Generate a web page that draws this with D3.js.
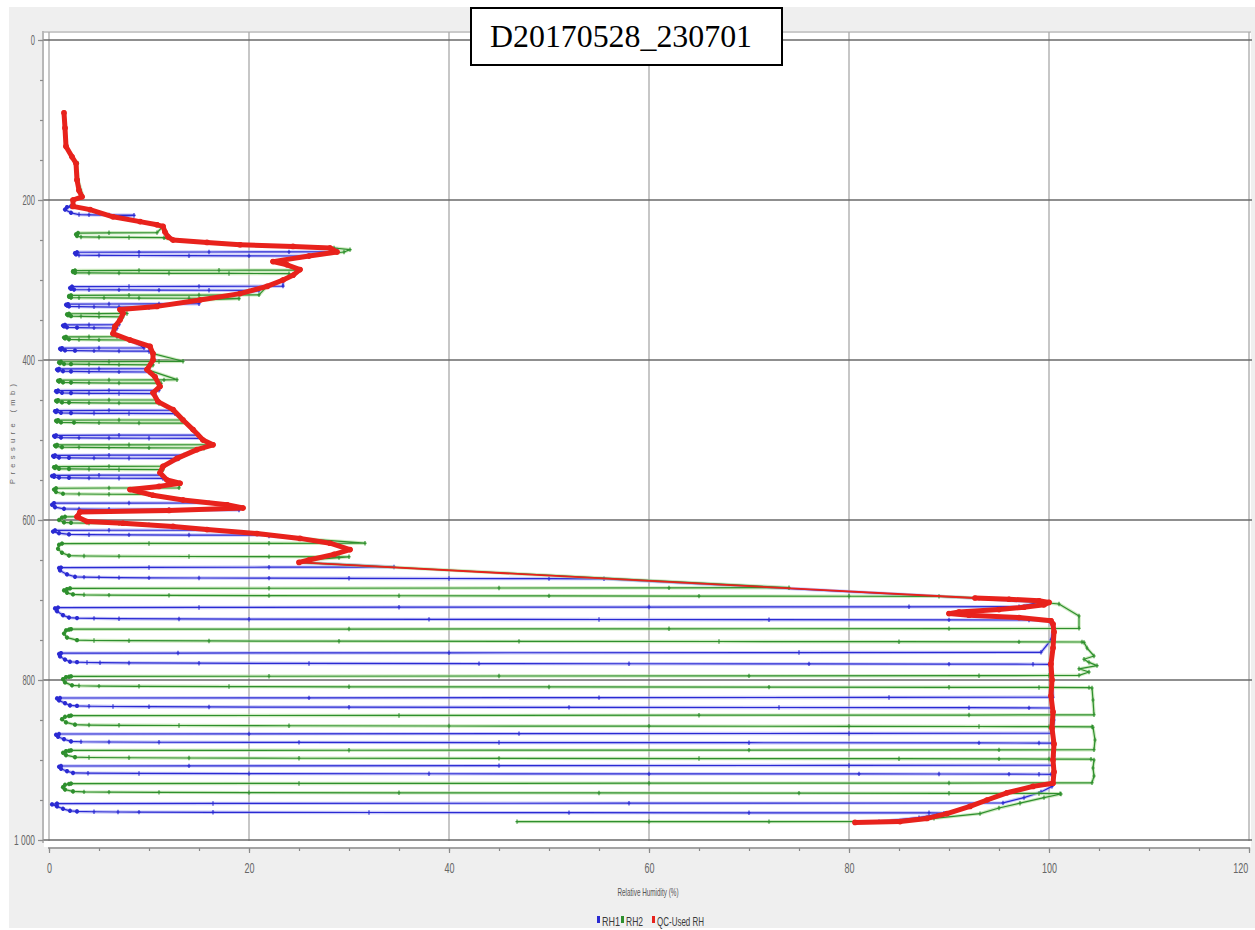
<!DOCTYPE html>
<html>
<head>
<meta charset="utf-8">
<script src="https://cdn.jsdelivr.net/npm/d3@7"></script>
<style>
  html, body { margin: 0; padding: 0; background: #ffffff; }
  svg { display: block; }
</style>
</head>
<body>
<svg id="chart" width="1255" height="930"></svg>
<script>
// Axis ticks
const pressureTicks = [0, 200, 400, 600, 800, 1000];
const rhTicks = [0, 20, 40, 60, 80, 100, 120];
const legendItems = ["RH1", "RH2", "QC-Used RH"];
const titleText = "D20170528_230701";

// RH1 sensor, [pressure hPa, RH %] in ascent order (heating cycles give the saw-tooth)
const rh1 = [
  [977,83],[972,87],[966.5,89.5],
  [966,88],[966,70],[965.8,52],[965.6,32],[965.4,16.4],[965.2,9],[965,6.9],[964.7,4.5],[964.3,2.8],[963.5,2.1],
  [961,1.4],[958,0.8],[955.5,0.3],
  [954.5,0.8],[954.3,16.4],[954,58],[953.6,95.4],
  [947,97.5],[940,99.2],[933,100.3],[925,100.4],[918.5,100.4],
  [918,100.2],[917.8,99],[917.6,96],[917.5,89],[917.4,81],[917.3,60],[917.2,38],[917,20],[916.8,9],[916.5,3.9],[916.2,2.4],
  [914,1.8],[911,1.2],[908.5,1.0],
  [907.5,1.2],[907.3,14],[907,45],[906.8,80],[906.5,100.4],
  [895,100.5],[880,100.4],
  [879,100.3],[878.8,99],[878.6,93],[878.4,70],[878.2,45],[878,25],[877.8,11],[877.5,6],[877.2,3.2],[876.8,2.2],
  [874,1.5],[871,0.9],[868.5,0.7],
  [867.5,1.0],[867.3,20],[867,47],[866.8,80],[866.5,100.4],
  [850,100.5],[836,100.4],
  [835,100.3],[834.8,98],[834.6,92],[834.4,73],[834.2,52],[834,30],[833.7,16],[833.4,10],[833.1,6.4],[832.8,4],[832.4,2.8],[831.8,2.1],
  [829,1.6],[825.5,1.0],[823,0.8],
  [822.5,1.1],[822.3,26],[822,55],[821.8,84],[821.5,100.4],
  [800,100.3],[781,100.2],
  [780.5,100],[780.3,98.4],[780.1,90],[779.9,76],[779.7,58],[779.5,43],[779.3,26],[779,15],[778.7,8],[778.4,5.1],[778.1,3.8],[777.7,2.8],[777.2,2.1],
  [774.5,1.6],[770.5,1.1],[767.5,1.0],
  [766.5,1.2],[766.3,12.9],[766,40],[765.7,75],[765.4,99.2],
  [750,100.2],[735,100.4],[726,100],
  [725,98],[724.8,90],[724.6,72],[724.4,55],[724.2,38],[724,20],[723.7,13],[723.4,7],[723,4.5],[722.6,2.8],[722,2],
  [719,1.4],[714,0.8],[710.5,0.6],
  [709.5,0.9],[709.3,15],[709,35],[708.8,60],[708.5,86],[708.3,97],
  [703,99],[698,93],[673.5,55.5],
  [673.3,50],[673.1,40],[672.9,30],[672.7,22],[672.5,15],[672.3,10],[672,7],[671.7,5],[671.4,3.5],[671,2.6],
  [668,1.8],[663,1.1],[660,1.0],
  [659.5,1.2],[659.3,10],[659,22],[658.8,34.5],
  [653,25],[650,26],[643,28.5],[637,30.1],[629,28.1],[623,25.1],[620,22],
  [619,22],[618.8,14],[618.6,8],[618.4,4],[618,2],
  [616.5,1.0],[614.5,0.4],
  [613,0.6],[612.8,6],[612.6,16],
  [606,10],[602,3.8],[596,2.8],[590,3.1],[588,12],[587.5,19],
  [587,19],[586.8,12],[586.6,6],[586.3,3],[586,1.5],
  [584,0.6],[581,0.3],
  [579,0.5],[578.8,8],[578.5,16],
  [575,13.4],[569,10.4],[562,8.1],[558,11],[554,13.1],[550,11.8],[548.3,11.4],
  [548,11.4],[547.8,7],[547.6,4],[547.3,2],[547,1],
  [546,0.5],[545,0.3],
  [544.2,0.5],[544,5],[543.8,11.2],
  [541,11.1],[533,11.4],[523.3,13],
  [523,13],[522.8,8],[522.6,4.5],[522.3,2],[522,1],
  [521,0.5],[520,0.4],
  [519.2,0.6],[519,6],[518.8,13.5],
  [512,14.8],[506,16.4],[500,15.4],[498.3,15.2],
  [498,15.2],[497.8,10],[497.6,6],[497.3,3],[497,1.2],
  [496,0.6],[495,0.5],
  [494.2,0.7],[494,7],[493.8,15],
  [487,14.4],[475,13.4],[467.3,12.6],
  [467,12.6],[466.8,8],[466.6,4.5],[466.3,2.2],[466,1.2],
  [465,0.7],[464,0.6],
  [463.2,0.8],[463,6],[462.8,12.4],
  [452,10.9],[442.3,10.6],
  [442,10.6],[441.8,7],[441.6,4],[441.3,2.2],[441,1.3],
  [440,0.8],[439,0.7],
  [438.2,0.9],[438,6],[437.8,11],
  [433,11.1],[421,10.6],[415.3,10],
  [415,10],[414.8,7],[414.6,4],[414.3,2.2],[414,1.4],
  [413,0.9],[412,0.8],
  [411.2,1.0],[411,5],[410.8,10],
  [400,10.4],[392,10.4],[389.3,10],
  [389,10],[388.8,7],[388.6,4.5],[388.3,2.6],[388,1.6],
  [387,1.2],[386,1.1],
  [385.2,1.3],[385,5],[384.8,9.5],
  [375,8.1],[367,6.4],[360.3,6.8],
  [360,6.8],[359.8,4.5],[359.5,2.8],[359.2,1.8],
  [358,1.5],[357,1.4],
  [356.2,1.6],[356,4],[355.8,7],
  [350,7.1],[342,7.4],[337,7.1],[334.3,10],
  [334,10],[333.8,7],[333.5,4.5],[333.2,3],[333,2],
  [332,1.8],[331,1.7],
  [330.2,1.9],[330,6],[329.8,11],[329.6,15],
  [325,15.1],[317,19.1],[313.3,21],
  [313,21],[312.8,16],[312.6,11],[312.4,7],[312.2,4],[312,2.5],
  [311,2.2],[310,2.1],
  [308.3,2.3],[308.1,8],[308,15],[307.8,22],[307.6,23.4],
  [300,23.4],[294,24.4],[287,25.1],[281,23.8],[277,22.4],[272,25],[270.3,26],
  [270,26],[269.8,20],[269.6,14],[269.4,9],[269.2,5],[269,3],
  [268,2.7],[266.5,2.6],
  [265.3,2.8],[265.1,9],[265,16],[264.8,24],[264.6,28.5],
  [262,28.8],[260,28.1],[258,24.4],[256,19.1],[253,15.8],[250,12.4],[240,11.6],[233,11.4],[227,9.1],[221,6.4],[219.3,8.5],
  [219,8.5],[218.8,6],[218.5,4],[218.2,3],
  [216,2.2],[212,1.6],[209,1.8],
  [208,2.2],[207.8,2.5],
  [200,2.4],[196,3.3],[175,2.8],[154,2.7],[146,2.3],[133,1.7],[110,1.6],[92,1.5]
];

// RH2 sensor, [pressure hPa, RH %] in ascent order
const rh2 = [
  [977,46.8],[977,60],[977,72],[976.8,85],[973,88.5],[967,93.1],[960,95],[954,97.1],[947,99.5],[942.5,101.2],
  [942,101.1],[941.8,99],[941.6,90],[941.4,75],[941.2,55],[941,35],[940.8,20],[940.5,11],[940.2,6],[939.8,3.5],[939.3,2.4],
  [937,1.6],[934,1.4],[931,1.6],[930,2.0],
  [929.5,2.2],[929.3,25],[929,60],[928.8,90],[928.5,104.3],
  [920,104.5],[910,104.4],[900,104.5],
  [899,104.2],[898.8,100],[898.6,95],[898.4,85],[898.2,65],[898,45],[897.8,25],[897.5,14],[897.2,8],[896.9,4],[896.5,2.6],
  [894,1.7],[891,1.4],[889,1.7],[888.5,2.0],
  [888,2.2],[887.8,30],[887.6,70],[887.4,95],[887.2,104.5],
  [875,104.6],[859,104.4],
  [858.5,104.3],[858.3,100],[858.1,93],[857.9,80],[857.7,60],[857.5,40],[857.2,24],[856.9,13],[856.6,7],[856.3,4],[855.8,2.6],
  [853,1.7],[849,1.3],[846,1.6],[845,2.0],
  [844.5,2.2],[844.3,35],[844,65],[843.8,92],[843.5,104.5],
  [825,104.4],[810,104.3],
  [809.5,104],[809.3,99],[809.1,90],[808.9,72],[808.7,50],[808.5,30],[808.2,18],[807.9,9],[807.6,5],[807.2,3],[806.7,2.3],
  [803,1.6],[799,1.4],[796.5,1.7],[796,2.0],
  [795.5,2.2],[795.3,22],[795,45],[794.8,70],[794.6,93],[794.4,100],[794.2,103],
  [790,104],[786,103],[782,104.8],[778,104],[774,103.5],[770,104.5],[760,103.8],[753,103.5],
  [752.5,103.3],[752.3,97],[752.1,85],[751.9,67],[751.7,47],[751.5,29],[751.2,16],[750.9,8],[750.6,4.5],[750.2,2.8],
  [747,1.8],[742,1.5],[738,1.7],[737,2.0],
  [736.5,2.2],[736.3,30],[736,62],[735.8,90],[735.5,103],
  [720,103],[705,101],[699,96],[695.5,89],
  [695.3,80],[695.1,65],[694.9,50],[694.7,35],[694.5,22],[694.2,12],[693.9,6],[693.5,3.5],[693,2.4],
  [691,1.8],[688,1.5],[686.5,1.8],
  [685.5,2.1],[685.3,22],[685,45],[684.8,62],[684.6,74],
  [653,25],[650,26],[647,29],
  [646,30],[645.8,22],[645.6,14],[645.3,7],[645,3.5],[644.5,2],
  [641,1.3],[636,0.9],[631,1.0],
  [629.5,1.3],[629.3,10],[629.1,22],[629,31.6],
  [623,25.1],[617,20.8],[612,15.8],[608,12.4],[604.5,7],
  [604,7],[603.8,4],[603.5,2.2],[603,1.5],
  [600,1.0],[597,1.3],
  [596,1.6],[595.8,3],
  [590,3.1],[588,12],[585,19.4],[581,17.8],[575,13.4],[569,10.4],[568.3,10],
  [568,10],[567.8,6],[567.5,3],[567.2,1.4],
  [565,0.7],[562,0.5],
  [560.3,0.7],[560,6],[559.8,13],
  [554,13.1],[550,11.8],[541,11.1],[537.3,11.4],
  [537,11.4],[536.8,7],[536.5,4],[536.2,2],[536,1],
  [535,0.6],[534,0.5],
  [533.2,0.7],[533,6],[532.8,11.4],
  [523,12.8],[512,14.8],[510.3,15.5],
  [510,15.5],[509.8,10],[509.5,6],[509.2,3],[509,1.3],
  [508,0.7],[507,0.6],
  [506.2,0.8],[506,8],[505.8,16.2],
  [500,15.4],[487,14.4],[479.3,13.8],
  [479,13.8],[478.8,9],[478.5,5],[478.2,2.5],[478,1.2],
  [477,0.8],[476,0.7],
  [475.2,0.9],[475,7],[474.8,13.5],
  [462,12.4],[454.3,11],
  [454,11],[453.8,7],[453.5,4],[453.2,2],[453,1.3],
  [452,0.8],[451,0.7],
  [450.2,0.9],[450,6],[449.8,10.8],
  [441,10.4],[433,11.1],[429.3,11.2],
  [429,11.2],[428.8,7],[428.5,4],[428.2,2.2],[428,1.4],
  [427,1.0],[426,0.9],
  [425.2,1.1],[425,6],[424.8,11.5],[424.6,12.8],
  [412,9.8],[406.3,10.4],
  [406,10.4],[405.8,7],[405.5,4],[405.2,2.2],[405,1.5],
  [404,1.1],[403,1.0],
  [402.2,1.2],[402,6],[401.8,11],[401.6,13.4],
  [392,10.4],[383,10.1],[375.3,8],
  [375,8],[374.8,5],[374.5,3],[374.2,2],
  [373,1.6],[372,1.5],
  [371.2,1.7],[371,4],[370.8,6.8],
  [367,6.4],[358,6.6],[350,7.1],[346.3,7.4],
  [346,7.4],[345.8,5],[345.5,3.2],[345.2,2.2],
  [344,1.9],[343,1.8],
  [342.2,2.0],[342,5],[341.8,7.8],
  [337,7.1],[333,10.8],[325,15.1],[323.3,19],
  [323,19],[322.8,14],[322.6,9],[322.4,5.5],[322.2,3],[322,2.2],
  [321,2.0],[320,2.0],
  [319.2,2.2],[319,8],[318.8,15],[318.6,21],
  [308,21.8],[300,23.4],[294,24.4],[292.3,24],
  [292,24],[291.8,18],[291.6,12],[291.4,7],[291.2,4],[291,2.6],
  [290,2.4],[289,2.4],
  [288.2,2.6],[288,9],[287.8,17],[287.6,25],
  [281,23.8],[277,22.4],[270,26],[265,29.5],[262,30.1],[260,28.5],[258,24.4],[256,19.1],[253,15.8],[250,12.4],[247.3,11.5],
  [247,11.5],[246.8,8],[246.5,5],[246.2,3.2],
  [245,2.8],[243,2.7],
  [241.3,2.9],[241,6],[240.8,10.8],
  [233,11.4],[227,9.1],[221,6.4],[212,4.1],[208,2.4],[200,2.4],[196,3.4],[175,2.9],[154,2.8],[146,2.3],[133,1.7],[110,1.6],[92,1.5]
];

// Quality-controlled RH used for the sounding, [pressure hPa, RH %]
const qcRH = [
  [978,80.6],[977,85.1],[973,87.8],[967,89.8],[958,92.1],[950,93.8],[941,95.8],[933,98.4],[929,100.4],
  [915,100.5],[900,100.4],[880,100.5],[860,100.3],[840,100.4],[820,100.2],[800,100.3],[780,100.2],[760,100.4],[740,100.5],[730,100.4],
  [726,100.2],[722,97],[719,92],[717,90],[715,91],[712,95],[709,97.5],[706,99.5],[703,100],[701,99],[699,96],[697.5,92.6],
  [653,25],[650,26],
  [643,28.5],[637,30.1],[629,28.1],[623,25.1],[617,20.8],[612,15.8],[608,12.4],[604,7.4],[602,3.8],[596,2.8],[590,3.1],[588,12],[585,19.4],[581,17.8],
  [575,13.4],[569,10.4],[562,8.1],[558,11],[554,13.1],[550,11.8],[541,11.1],[533,11.4],[523,12.8],[512,14.8],[506,16.4],[500,15.4],[487,14.4],
  [475,13.4],[462,12.4],[452,10.9],[441,10.4],[433,11.1],[421,10.6],[412,9.8],[400,10.4],[392,10.4],[383,10.1],[375,8.1],[367,6.4],[358,6.6],
  [350,7.1],[342,7.4],[337,7.1],[333,10.8],[325,15.1],[317,19.1],[308,21.8],[300,23.4],[294,24.4],[287,25.1],[281,23.8],[277,22.4],[270,26],
  [265,28.8],[260,28.1],[258,24.4],[256,19.1],[253,15.8],[250,12.4],[246,11.9],[240,11.6],[233,11.4],[231,10.8],[227,9.1],[221,6.4],[212,4.1],
  [208,2.4],[200,2.4],[196,3.3],[188,3.0],[175,2.8],[154,2.7],[146,2.3],[133,1.7],[110,1.6],[91,1.5]
];

const svg = d3.select("#chart");
const W = 1255, H = 930;

const x = d3.scaleLinear().domain([0, 120]).range([49, 1249]);
const y = d3.scaleLinear().domain([0, 1000]).range([40, 840]);

const colors = { rh1: "#2a2ad2", rh2: "#2e8f2e", qc: "#e8221c" };

// outer panel and plotting area
svg.append("rect").attr("x", 9).attr("y", 7).attr("width", W - 9).attr("height", 921).attr("fill", "#efefef");
svg.append("rect").attr("x", 44).attr("y", 31).attr("width", 1207).attr("height", 816).attr("fill", "#ffffff");
svg.append("line").attr("x1", 44).attr("x2", 1251).attr("y1", 32).attr("y2", 32)
  .attr("stroke", "#b8b8b8").attr("stroke-width", 1.5);

// vertical grid
svg.append("g").selectAll("line").data(rhTicks).join("line")
  .attr("x1", d => x(d)).attr("x2", d => x(d))
  .attr("y1", 32).attr("y2", 841)
  .attr("stroke", "#a9a9a9").attr("stroke-width", 1.3);

// horizontal grid
svg.append("g").selectAll("line").data(pressureTicks).join("line")
  .attr("x1", 43).attr("x2", 1252)
  .attr("y1", d => y(d)).attr("y2", d => y(d))
  .attr("stroke", "#6a6a6a").attr("stroke-width", 1.7);

// axis lines
svg.append("line").attr("x1", 43).attr("x2", 43).attr("y1", 31).attr("y2", 843)
  .attr("stroke", "#9a9a9a").attr("stroke-width", 1.3);
svg.append("line").attr("x1", 48).attr("x2", 1250).attr("y1", 848).attr("y2", 848)
  .attr("stroke", "#8a8a8a").attr("stroke-width", 1.6);

// y axis ticks and labels
const yAxis = svg.append("g").attr("transform", "translate(43,0)")
  .call(d3.axisLeft(y).tickValues(pressureTicks).tickSize(5).tickPadding(3)
    .tickFormat(d => d === 1000 ? "1 000" : String(d)));
const yMinor = svg.append("g").attr("transform", "translate(43,0)")
  .call(d3.axisLeft(y).tickValues(y.ticks(20)).tickSize(3).tickFormat(""));

// x axis ticks and labels
const xAxis = svg.append("g").attr("transform", "translate(0,848)")
  .call(d3.axisBottom(x).tickValues(rhTicks).tickSize(5).tickPadding(9).tickFormat(d => String(d)));
const xMinor = svg.append("g").attr("transform", "translate(0,848)")
  .call(d3.axisBottom(x).tickValues(x.ticks(24)).tickSize(3).tickFormat(""));

[yAxis, yMinor, xAxis, xMinor].forEach(g => {
  g.select(".domain").remove();
  g.selectAll(".tick line").attr("stroke", "#8a8a8a").attr("stroke-width", 1.2);
});

yAxis.selectAll("text")
  .attr("font-family", "Liberation Sans, Arial, sans-serif")
  .attr("font-size", 14).attr("fill", "#666")
  .attr("textLength", function () { return this.textContent.length * 4.2; })
  .attr("lengthAdjust", "spacingAndGlyphs");

// narrow tick numerals along the humidity axis
xAxis.selectAll("text")
  .attr("font-family", "Liberation Sans, Arial, sans-serif")
  .attr("font-size", 15).attr("fill", "#666")
  .attr("transform", "scale(0.6,1)");
// keep the last label inside the panel edge
xAxis.selectAll("text").filter(d => d === 120).attr("text-anchor", "end").attr("x", -2);

// axis titles
svg.append("text").attr("x", 648).attr("y", 896).attr("text-anchor", "middle")
  .attr("font-family", "Liberation Sans, Arial, sans-serif").attr("font-size", 11.5).attr("fill", "#555")
  .attr("textLength", 61).attr("lengthAdjust", "spacingAndGlyphs")
  .text("Relative Humidity (%)");
svg.append("text").attr("transform", "translate(15,434) rotate(-90)").attr("text-anchor", "middle")
  .attr("font-family", "Liberation Sans, Arial, sans-serif").attr("font-size", 7.5).attr("fill", "#666")
  .attr("textLength", 100).attr("lengthAdjust", "spacing")
  .text("Pressure (mb)");

// series
const line = d3.line().x(d => x(d[1])).y(d => y(d[0]));
const plot = svg.append("g");

function drawSensor(data, color, halo) {
  plot.append("path").datum(data).attr("d", line)
    .attr("fill", "none").attr("stroke", halo).attr("stroke-width", 3.4)
    .attr("stroke-opacity", 0.55).attr("stroke-linejoin", "round");
  plot.append("path").datum(data).attr("d", line)
    .attr("fill", "none").attr("stroke", color).attr("stroke-width", 1.2)
    .attr("stroke-linejoin", "round");
  plot.append("path")
    .attr("d", data.map(d => {
      const px = x(d[1]), py = y(d[0]);
      return `M${px - 1.5},${py}H${px + 1.5}M${px},${py - 2.2}V${py + 2.2}`;
    }).join(""))
    .attr("stroke", color).attr("stroke-width", 1.1).attr("fill", "none");
  // the heated-sensor readings pile up near zero: heavier marks there
  plot.append("g").selectAll("circle").data(data.filter(d => d[1] < 3)).join("circle")
    .attr("cx", d => x(d[1])).attr("cy", d => y(d[0])).attr("r", 2.1)
    .attr("fill", color);
}

drawSensor(rh1, colors.rh1, "#9a9af2");
drawSensor(rh2, colors.rh2, "#a6d88e");

// QC profile: dense stretches read as a heavy trace, a data gap is bridged by a thin segment
plot.append("g").selectAll("line").data(d3.pairs(qcRH)).join("line")
  .attr("x1", d => x(d[0][1])).attr("y1", d => y(d[0][0]))
  .attr("x2", d => x(d[1][1])).attr("y2", d => y(d[1][0]))
  .attr("stroke", colors.qc)
  .attr("stroke-width", d => Math.abs(d[0][0] - d[1][0]) > 30 ? 1.8 : 5)
  .attr("stroke-linecap", "round");
plot.append("g").selectAll("circle").data(qcRH).join("circle")
  .attr("cx", d => x(d[1])).attr("cy", d => y(d[0])).attr("r", 2.8)
  .attr("fill", colors.qc);

// legend
const legendColors = [colors.rh1, colors.rh2, colors.qc];
const legendX = [597, 621, 652];
const legendW = [18, 17, 47];
const legend = svg.append("g");
legendItems.forEach((name, i) => {
  legend.append("rect").attr("x", legendX[i]).attr("y", 916).attr("width", 3).attr("height", 7)
    .attr("fill", legendColors[i]);
  legend.append("text").attr("x", legendX[i] + 5).attr("y", 926)
    .attr("font-family", "Liberation Sans, Arial, sans-serif").attr("font-size", 13).attr("fill", "#3a3a3a")
    .attr("textLength", legendW[i]).attr("lengthAdjust", "spacingAndGlyphs")
    .text(name);
});

// title box
svg.append("rect").attr("x", 471).attr("y", 8).attr("width", 311).attr("height", 57)
  .attr("fill", "#ffffff").attr("stroke", "#000").attr("stroke-width", 2);
svg.append("text").attr("x", 490).attr("y", 47)
  .attr("font-family", "Liberation Serif, Times New Roman, serif").attr("font-size", 32).attr("fill", "#000")
  .attr("textLength", 262).attr("lengthAdjust", "spacingAndGlyphs")
  .text(titleText);
</script>
</body>
</html>
